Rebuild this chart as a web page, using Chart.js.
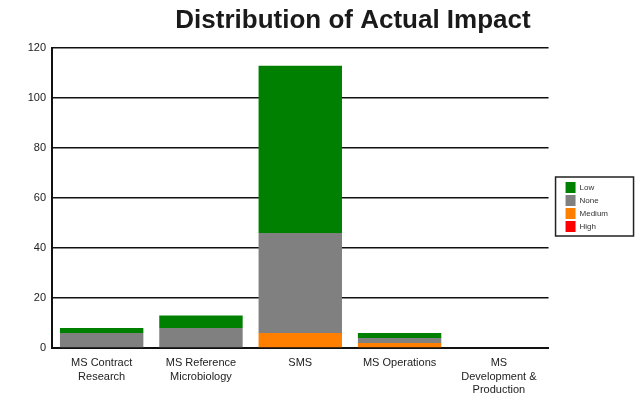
<!DOCTYPE html>
<html>
<head>
<meta charset="utf-8">
<script src="https://cdn.jsdelivr.net/npm/chart.js@4/dist/chart.umd.min.js"></script>
<style>
  html, body { margin: 0; padding: 0; background: #fff; }
  #wrap { width: 636px; height: 396px; }
</style>
</head>
<body>
<div id="wrap"><canvas id="ImpactChart"></canvas></div>
<script>
var categories = [
    ['MS Contract', 'Research'],
    ['MS Reference', 'Microbiology'],
    'SMS',
    'MS Operations',
    ['MS', 'Development &', 'Production']
];
var high   = [0, 0, 0, 0, 0];
var medium = [0, 0, 6, 2, 0];
var none   = [6, 8, 40, 2, 0];
var low    = [2, 5, 67, 2, 0];
var yTicks = [0, 20, 40, 60, 80, 100, 120];

Chart.defaults.font.family = '"Liberation Sans", Arial, sans-serif';
Chart.defaults.color = '#222';

// nudge title / legend and draw the frame around the legend
var tweaks = {
    id: 'tweaks',
    afterLayout: function (chart) {
        var t = chart.titleBlock;
        t.left += 44; t.right += 44;
        var lg = chart.legend;
        lg.top += 9; lg.bottom += 9;
    },
    afterDraw: function (chart) {
        var boxes = chart.legend.legendHitBoxes;
        if (!boxes || !boxes.length) return;
        var top = Math.min.apply(null, boxes.map(function (b) { return b.top; }));
        var bottom = Math.max.apply(null, boxes.map(function (b) { return b.top + b.height; }));
        var left = Math.min.apply(null, boxes.map(function (b) { return b.left; }));
        var c = chart.ctx;
        c.save();
        c.strokeStyle = '#222';
        c.lineWidth = 1.5;
        c.strokeRect(left - 10, top - 5, 78, bottom - top + 9);
        c.restore();
    }
};

var ctx = document.getElementById('ImpactChart');

var data = {
    labels: categories,
    datasets: [
        { label: 'High',   data: high,   backgroundColor: '#ff0000' },
        { label: 'Medium', data: medium, backgroundColor: '#ff8000' },
        { label: 'None',   data: none,   backgroundColor: '#808080' },
        { label: 'Low',    data: low,    backgroundColor: '#008000' }
    ]
};

var options = {
    responsive: true,
    maintainAspectRatio: false,
    animation: false,
    layout: { padding: { left: 0, right: 18, top: 0, bottom: 0 } },
    datasets: {
        bar: { barPercentage: 0.84, categoryPercentage: 1, borderWidth: 0 }
    },
    plugins: {
        title: {
            display: true,
            text: 'Distribution of Actual Impact',
            color: '#1a1a1a',
            font: { size: 26, weight: 'bold' },
            padding: { top: 5, bottom: 12 }
        },
        legend: {
            display: true,
            position: 'right',
            reverse: true,
            labels: {
                boxWidth: 10,
                boxHeight: 11,
                padding: 2,
                color: '#333',
                font: { size: 8 }
            }
        },
        tooltip: { enabled: false }
    },
    scales: {
        x: {
            stacked: true,
            grid: { display: false },
            border: { display: true, color: '#111', width: 2 },
            ticks: { color: '#222', font: { size: 11, lineHeight: 1.25 }, padding: 0, maxRotation: 0, autoSkip: false },
            afterFit: function (s) { s.height = 48; }
        },
        y: {
            stacked: true,
            min: 0,
            max: 120,
            afterBuildTicks: function (s) { s.ticks = yTicks.map(function (v) { return { value: v }; }); },
            grid: { color: '#111', lineWidth: 1.5, drawTicks: false },
            border: { display: true, color: '#111', width: 2 },
            ticks: { color: '#222', font: { size: 11 }, padding: 6 },
            afterFit: function (s) { s.width = 52; }
        },
        gap: {
            type: 'linear',
            position: 'right',
            display: true,
            grid: { display: false },
            border: { display: false },
            ticks: { display: false },
            afterFit: function (s) { s.width = 15; }
        }
    }
};

var chart = new Chart(ctx, {
    type: 'bar',
    data: data,
    options: options,
    plugins: [tweaks]
});
</script>
</body>
</html>
